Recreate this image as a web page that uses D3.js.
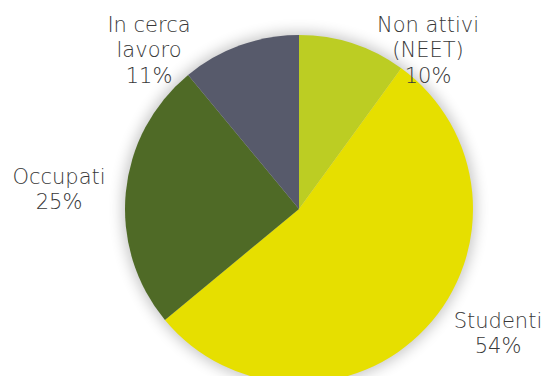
<!DOCTYPE html>
<html>
<head>
<meta charset="utf-8">
<script src="https://cdn.jsdelivr.net/npm/d3@7"></script>
<style>
  html, body { margin: 0; padding: 0; background: #ffffff; }
  svg { display: block; }
  text { font-family: "DejaVu Sans", sans-serif; font-weight: 200; fill: #383838; }
</style>
</head>
<body>
<svg id="chart" width="544" height="376"></svg>
<script>
// Composizione per condizione
const categories = ["Non attivi (NEET)", "Studenti", "Occupati", "In cerca lavoro"];
const labelLines = [["Non attivi", "(NEET)"], ["Studenti"], ["Occupati"], ["In cerca", "lavoro"]];
const values = [10, 54, 25, 11];
const colors = ["#bccd23", "#e6df00", "#4f6a26", "#575a6b"];

const width = 544, height = 376;
const cx = 299, cy = 209, radius = 174;

const svg = d3.select("#chart");

// soft halo behind the pie
const defs = svg.append("defs");
const blur = defs.append("filter").attr("id", "halo")
  .attr("x", "-30%").attr("y", "-30%").attr("width", "160%").attr("height", "160%");
blur.append("feGaussianBlur").attr("stdDeviation", 7);

const g = svg.append("g").attr("transform", `translate(${cx},${cy})`);

g.append("circle")
  .attr("r", radius + 3)
  .attr("fill", "#000")
  .attr("opacity", 0.22)
  .attr("filter", "url(#halo)");

const pie = d3.pie().sort(null).value(d => d);
const arcs = pie(values);
const arc = d3.arc().innerRadius(0).outerRadius(radius);

g.selectAll("path.slice")
  .data(arcs)
  .join("path")
  .attr("class", "slice")
  .attr("d", arc)
  .attr("fill", (d, i) => colors[i]);

// baseline of the first line of each label (page coordinates)
const labelPos = [
  [428, 32],
  [498, 328],
  [59, 184],
  [149, 32]
];
const fontSize = 21, lineH = 25.3;

const labels = svg.selectAll("g.label")
  .data(arcs)
  .join("g")
  .attr("class", "label")
  .attr("transform", (d, i) => `translate(${labelPos[i][0]},${labelPos[i][1]})`);

labels.each(function(d, i) {
  const lines = labelLines[i].concat([values[i] + "%"]);
  const t = d3.select(this).append("text")
    .attr("text-anchor", "middle")
    .attr("font-size", fontSize);
  lines.forEach((s, k) => {
    t.append("tspan")
      .attr("x", 0)
      .attr("y", k * lineH)
      .text(s);
  });
});
</script>
</body>
</html>
